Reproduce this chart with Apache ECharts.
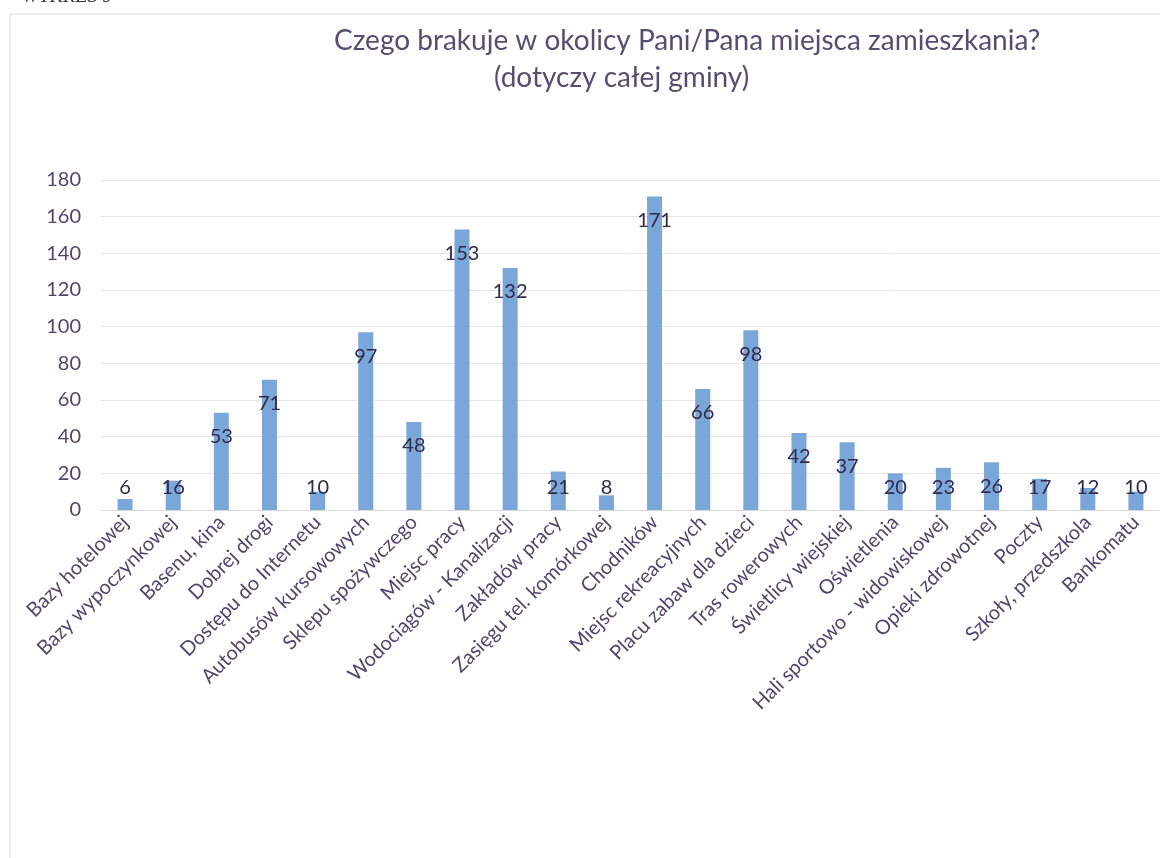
<!DOCTYPE html>
<html>
<head>
<meta charset="utf-8">
<script src="https://cdn.jsdelivr.net/npm/echarts@6/dist/echarts.min.js"></script>
<style>
html,body{margin:0;padding:0;background:#fff;}
#chart{width:1160px;height:858px;}
</style>
</head>
<body>
<div id="chart"></div>
<script>
const categories = ["Bazy hotelowej","Bazy wypoczynkowej","Basenu, kina","Dobrej drogi","Dostępu do Internetu","Autobusów kursowowych","Sklepu spożywczego","Miejsc pracy","Wodociągów - Kanalizacji","Zakładów pracy","Zasięgu tel. komórkowej","Chodników","Miejsc rekreacyjnych","Placu zabaw dla dzieci","Tras rowerowych","Świetlicy wiejskiej","Oświetlenia","Hali sportowo - widowiskowej","Opieki zdrowotnej","Poczty","Szkoły, przedszkola","Bankomatu"];
const values = [6,16,53,71,10,97,48,153,132,21,8,171,66,98,42,37,20,23,26,17,12,10];
const yTicks = {min:0, max:180, interval:20};
const titleLine1 = "Czego brakuje w okolicy Pani/Pana miejsca zamieszkania?";
const titleLine2 = "(dotyczy całej gminy)";

const FONT = 'Lato, "Open Sans", sans-serif';
const chart = echarts.init(document.getElementById('chart'));

// Labels sit inside the bar top; short bars get the label pinned near the axis
const data = values.map(v => ({
  value: v,
  label: v >= 26 ? {position:'insideTop', distance:14} : {position:'insideBottom', distance:12}
}));

chart.setOption({
  backgroundColor:'#fff',
  animation:false,
  title:[
    {text:titleLine1, left:329, top:22, textStyle:{fontFamily:FONT, fontSize:28, fontWeight:'normal', color:'#574d6e'}},
    {text:titleLine2, left:489, top:59, textStyle:{fontFamily:FONT, fontSize:28, fontWeight:'normal', color:'#574d6e'}}
  ],
  graphic:[
    {type:'rect', shape:{x:10, y:14, width:1200, height:900}, style:{fill:'none', stroke:'#dcdcdc', lineWidth:1}, silent:true, z:-1},
    {type:'text', left:22, top:-13, style:{text:'WYKRES 9', font:'italic 20px "Liberation Serif", serif', fill:'#333'}}
  ],
  grid:{left:101, right:-2, top:180, bottom:348, containLabel:false},
  xAxis:{
    type:'category',
    data:categories,
    axisLine:{show:true, lineStyle:{color:'#d9d9d9'}},
    axisTick:{show:false},
    axisLabel:{interval:0, rotate:45, margin:9, fontFamily:FONT, fontSize:20, color:'#51466a'}
  },
  yAxis:{
    type:'value',
    min:yTicks.min, max:yTicks.max, interval:yTicks.interval,
    axisLine:{show:false},
    axisTick:{show:false},
    splitLine:{lineStyle:{color:'#e6e6e6'}},
    axisLabel:{margin:20, fontFamily:FONT, fontSize:20, color:'#51466a'}
  },
  series:[{
    type:'bar',
    data:data,
    barWidth:15,
    itemStyle:{color:'#7ba6da'},
    label:{show:true, fontFamily:FONT, fontSize:20, color:'#2f2a48'}
  }]
});
</script>
</body>
</html>
